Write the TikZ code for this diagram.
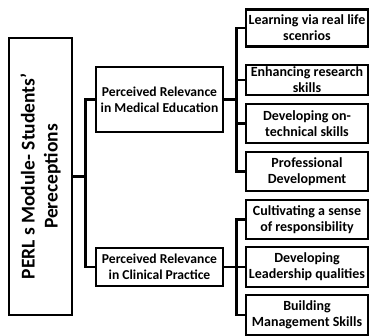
\documentclass[tikz,border=0pt]{standalone}
\usepackage{fontspec}
\setmainfont{Carlito}
\usepackage{tikz}
\usetikzlibrary{calc}

\tikzset{
    box/.style = {draw, line width = 2.7pt, align = center, inner sep = 0pt, font = \bfseries},
    rootbox/.style = {box, minimum width = 277pt, minimum height = 63pt, rotate = 90, font = \bfseries\fontsize{19.5}{23}\selectfont},
    midbox/.style = {box, minimum width = 127pt, font = \bfseries\fontsize{13.6}{16}\selectfont},
    leafbox/.style = {box, minimum width = 122pt, font = \bfseries\fontsize{14}{16}\selectfont},
    link/.style = {line width = 2.7pt}
}

\begin{document}
\begin{tikzpicture}[x = 1pt, y = -1pt]
    % Parametri
    \pgfmathsetmacro{\bus}{12}
    \pgfmathsetmacro{\xmid}{159.5}
    \pgfmathsetmacro{\xleaf}{307}
    \useasboundingbox (0,0) rectangle (370,336);
    % Radice
    \node[rootbox] (root) at (40.5,176.5) {PERL s Module- Students'\\Pereceptions};
    % Livello intermedio
    \node[midbox, minimum height = 65pt] (med) at (\xmid,99.5) {Perceived Relevance\\in Medical Education};
    \node[midbox, minimum height = 38pt] (clin) at (\xmid,267) {Perceived Relevance\\in Clinical Practice};
    % Foglie
    \node[leafbox, minimum height = 37pt] (l1) at (\xleaf,28) {Learning via real life\\scenrios};
    \node[leafbox, minimum height = 30pt] (l2) at (\xleaf,80) {Enhancing research\\skills};
    \node[leafbox, minimum height = 39pt] (l3) at (\xleaf,123.5) {Developing on-\\technical skills};
    \node[leafbox, minimum height = 39pt] (l4) at (\xleaf,171.5) {Professional\\Development};
    \node[leafbox, minimum height = 39pt] (l5) at (\xleaf,219.5) {Cultivating a sense\\of responsibility};
    \node[leafbox, minimum height = 40pt] (l6) at (\xleaf,267) {Developing\\Leadership qualities};
    \node[leafbox, minimum height = 40pt] (l7) at (\xleaf,315) {Building\\Management Skills};
    % Collegamenti
    \foreach \n in {med, clin}
        \draw[link] (root.south) -- ++(\bus,0) |- (\n.west);
    \foreach \n in {l1, l2, l3, l4}
        \draw[link] (med.east) -- ++(\bus,0) |- (\n.west);
    \foreach \n in {l5, l6, l7}
        \draw[link] (clin.east) -- ++(\bus,0) |- (\n.west);
\end{tikzpicture}
\end{document}
